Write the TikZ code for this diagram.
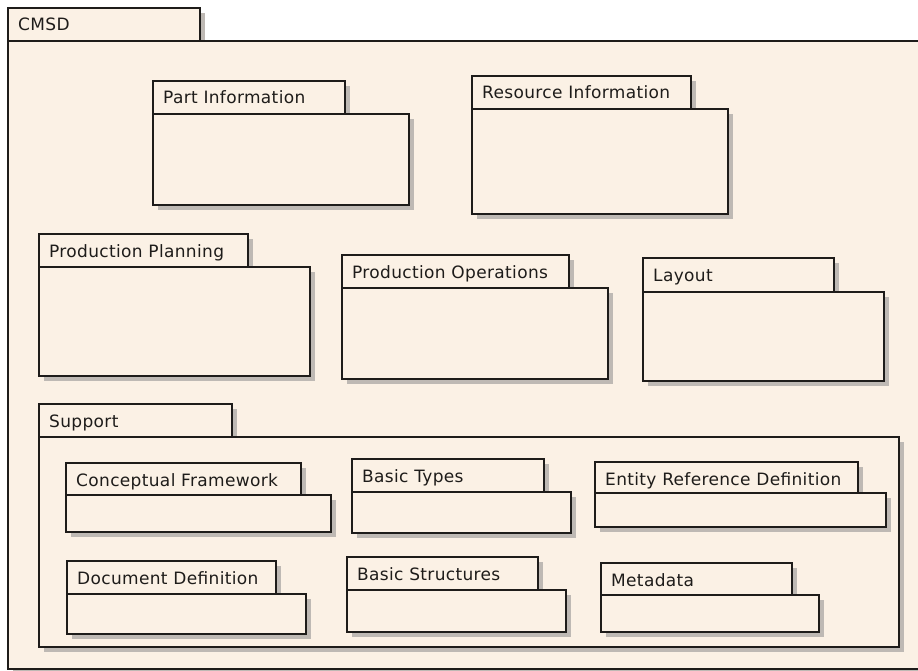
\documentclass[tikz,border=0pt]{standalone}
\usepackage{fontspec}
\setmainfont{DejaVu Sans}
\newfontfamily\pkgfont[LetterSpace=2]{DejaVu Sans}
\definecolor{pkgfill}{RGB}{251,241,229}
\definecolor{shadowc}{RGB}{190,185,180}
\definecolor{linec}{RGB}{30,28,26}
\tikzset{
  pkgline/.style={draw=linec, line width=1.8pt, line join=miter},
  pkgshadow/.style={fill=shadowc},
  pkglabel/.style={anchor=base west, inner sep=0pt, text=linec, font=\pkgfont\fontsize{17}{20}\selectfont}
}
% #1 name, #2 left, #3 tab top, #4 tab right, #5 body top, #6 body right, #7 body bottom, #8 label
\newcommand\umlpkg[8]{%
  \fill[pkgshadow] (#2+5,#5+5) rectangle (#6+5,#7+5);
  \fill[pkgshadow] (#2+5,#3+5) rectangle (#4+5,#5+5);
  \draw[pkgline, fill=pkgfill] (#2,#3) rectangle (#4,#5);
  \draw[pkgline, fill=pkgfill] (#2,#5) rectangle (#6,#7);
  \node[pkglabel] (#1) at (#2+10,#3+23) {#8};
}
\begin{document}
\begin{tikzpicture}[x=1pt,y=-1pt]
\useasboundingbox (0,0) rectangle (918,671);
\clip (0,0) rectangle (918,671);
\fill[white] (0,0) rectangle (918,671);
\umlpkg{cmsd}{8}{8}{200}{41}{925}{669}{CMSD}
\umlpkg{part}{153}{81}{345}{114}{409}{205}{Part Information}
\umlpkg{res}{472}{76}{691}{109}{728}{214}{Resource Information}
\umlpkg{plan}{39}{234}{248}{267}{310}{376}{Production Planning}
\umlpkg{ops}{342}{255}{569}{288}{608}{379}{Production Operations}
\umlpkg{layout}{643}{258}{834}{292}{884}{381}{Layout}
\umlpkg{support}{39}{404}{232}{437}{899}{647}{Support}
\umlpkg{concept}{66}{463}{301}{495}{331}{532}{Conceptual Framework}
\umlpkg{types}{352}{459}{544}{492}{571}{533}{Basic Types}
\umlpkg{entity}{595}{462}{858}{493}{886}{527}{Entity Reference Definition}
\umlpkg{docdef}{67}{561}{276}{594}{306}{634}{Document Definition}
\umlpkg{struct}{347}{557}{538}{590}{566}{632}{Basic Structures}
\umlpkg{meta}{601}{563}{792}{595}{819}{632}{Metadata}
\end{tikzpicture}
\end{document}
